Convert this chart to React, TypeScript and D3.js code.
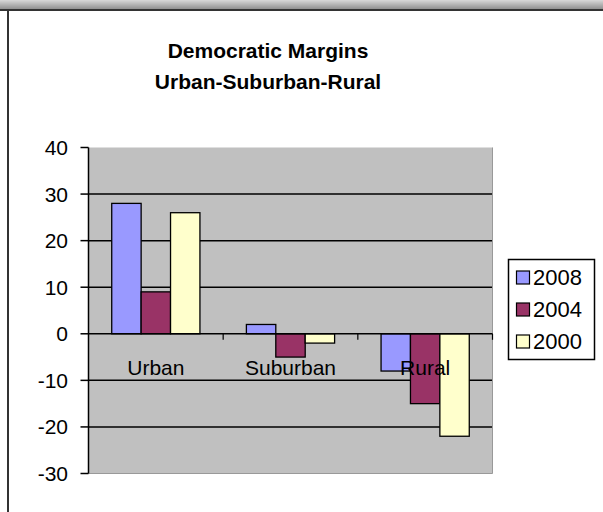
import React from "react";
import * as d3 from "d3";

const categories = ["Urban", "Suburban", "Rural"];
const seriesNames = ["2008", "2004", "2000"];
const values2008 = [28, 2, -8];
const values2004 = [9, -5, -15];
const values2000 = [26, -2, -22];
const yTicks = [40, 30, 20, 10, 0, -10, -20, -30];
const colors = ["#9999FF", "#993366", "#FFFFCC"];
const titleLines = ["Democratic Margins", "Urban-Suburban-Rural"];

export default function App() {
  const W = 603, H = 512;
  const plot = { left: 88.5, right: 492.5, top: 147.5, bottom: 473.5 };
  const y = d3.scaleLinear().domain([-30, 40]).range([plot.bottom, plot.top]);
  const x0 = d3.scaleBand().domain(categories).range([plot.left, plot.right]).paddingInner(0).paddingOuter(0);
  const x1 = d3.scaleBand().domain(seriesNames).range([0, x0.bandwidth()]).paddingInner(0).paddingOuter(0.79);
  const seriesValues = [values2008, values2004, values2000];
  const font = "'Liberation Sans', Arial, sans-serif";

  return (
    <svg width={W} height={H} style={{ position: "absolute", left: 0, top: 0, display: "block" }}>
      <defs>
        <linearGradient id="topbar" x1="0" y1="0" x2="0" y2="1">
          <stop offset="0" stopColor="#d8d8d8" />
          <stop offset="1" stopColor="#909090" />
        </linearGradient>
      </defs>
      <rect x={0} y={0} width={W} height={H} fill="#fff" />
      <rect x={0} y={0} width={W} height={9} fill="url(#topbar)" />
      <line x1={0} x2={W} y1={10} y2={10} stroke="#333" strokeWidth={2} />
      <line x1={8} x2={8} y1={9} y2={H} stroke="#333" strokeWidth={2} />

      <g fontFamily={font} fontWeight="bold" fontSize={21} fill="#000" textAnchor="middle">
        {titleLines.map((t, i) => (
          <text key={t} x={268} y={57.5 + i * 31}>{t}</text>
        ))}
      </g>

      <rect x={plot.left} y={plot.top} width={plot.right - plot.left} height={plot.bottom - plot.top} fill="#C0C0C0" />
      {yTicks.filter((t) => t !== 0 && t !== -30 && t !== 40).map((t) => (
        <line key={t} x1={plot.left} x2={plot.right} y1={y(t)} y2={y(t)} stroke="#000" strokeWidth={1.5} />
      ))}
      <line x1={plot.right} x2={plot.right} y1={plot.top} y2={plot.bottom} stroke="#999" strokeWidth={1} />
      <line x1={plot.left} x2={plot.right} y1={plot.bottom} y2={plot.bottom} stroke="#999" strokeWidth={1} />

      {categories.map((c, ci) => (
        <g key={c}>
          {seriesNames.map((s, si) => {
            const v = seriesValues[si][ci];
            const bx = (x0(c) as number) + (x1(s) as number);
            const top = y(Math.max(0, v));
            const h = Math.abs(y(v) - y(0));
            return (
              <rect key={s} x={bx} y={top} width={x1.bandwidth()} height={h} fill={colors[si]} stroke="#000" strokeWidth={1.3} />
            );
          })}
        </g>
      ))}

      <line x1={plot.left} x2={plot.right} y1={y(0)} y2={y(0)} stroke="#000" strokeWidth={1.5} />
      {categories.map((c) => (
        <line key={c} x1={(x0(c) as number) + x0.bandwidth()} x2={(x0(c) as number) + x0.bandwidth()} y1={y(0)} y2={y(0) + 6} stroke="#000" strokeWidth={1.2} />
      ))}
      <line x1={plot.left} x2={plot.left} y1={plot.top} y2={plot.bottom} stroke="#000" strokeWidth={1.5} />
      {yTicks.map((t) => (
        <g key={t}>
          <line x1={plot.left - 8} x2={plot.left} y1={y(t)} y2={y(t)} stroke="#000" strokeWidth={1.5} />
          <text x={68} y={y(t)} dy="0.36em" textAnchor="end" fontFamily={font} fontSize={21} fill="#000">{t}</text>
        </g>
      ))}

      {categories.map((c) => (
        <text key={c} x={(x0(c) as number) + x0.bandwidth() / 2} y={y(0) + 41} textAnchor="middle" fontFamily={font} fontSize={21} fill="#000">{c}</text>
      ))}

      <rect x={508.5} y={259.5} width={86} height={100} fill="#fff" stroke="#000" strokeWidth={1.5} />
      {seriesNames.map((s, i) => (
        <g key={s}>
          <rect x={516.5} y={271 + i * 32} width={13} height={13} fill={colors[i]} stroke="#000" strokeWidth={1.2} />
          <text x={533} y={277.5 + i * 32} dy="0.36em" fontFamily={font} fontSize={22} fill="#000">{s}</text>
        </g>
      ))}
    </svg>
  );
}
